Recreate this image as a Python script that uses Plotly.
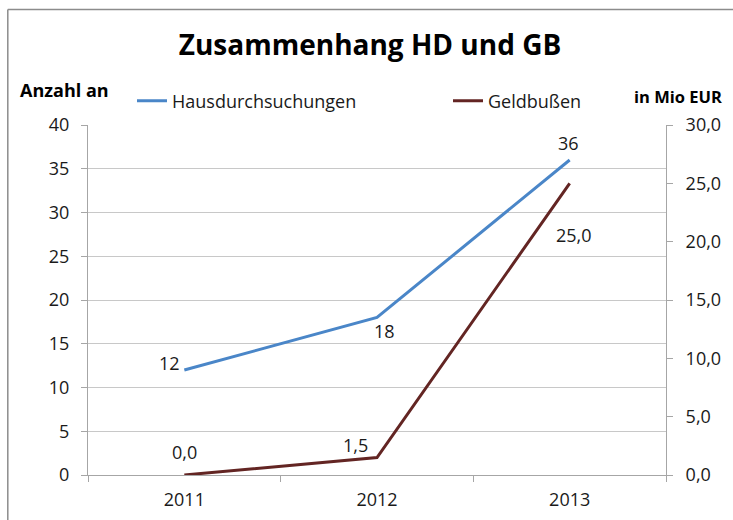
import plotly.graph_objects as go

years = ["2011", "2012", "2013"]
hausdurchsuchungen = [12, 18, 36]
geldbussen = [0.0, 1.5, 25.0]
hd_labels = ["12", "18", "36"]
gb_labels = ["0,0", "1,5", "25,0"]
left_ticks = [0, 5, 10, 15, 20, 25, 30, 35, 40]
right_ticks = [0, 5, 10, 15, 20, 25, 30]

BLUE = "#4A86C8"
RED = "#632523"
FONT = "Open Sans"
TXT = "#1a1a1a"

# body margin removed via post_script; plot-area in window px: x 88..666, y 125..475
OFF = 0
PL, PR, PT, PB = 88, 666, 125, 475
PW, PH = PR - PL, PB - PT


def px(wx):
    return (wx - PL) / PW


def py(wy):
    return (PB - wy) / PH


fig = go.Figure()
fig.add_trace(go.Scatter(x=years, y=hausdurchsuchungen, mode="lines", name="Hausdurchsuchungen",
                         line=dict(color=BLUE, width=3), legend="legend", showlegend=True))
fig.add_trace(go.Scatter(x=years, y=geldbussen, mode="lines", name="Geldbußen",
                         line=dict(color=RED, width=3), yaxis="y2", legend="legend2", showlegend=True))

hd_shift = [(-15, 7), (7, -13), (-1, 17)]
gb_shift = [(0, 23), (-22, 13), (4, -52)]
ann = []
for i, (yv, t, (dx, dy)) in enumerate(zip(hausdurchsuchungen, hd_labels, hd_shift)):
    ann.append(dict(x=i, y=yv, xref="x", yref="y", text=t, showarrow=False,
                    xanchor="center", yanchor="middle",
                    xshift=dx, yshift=dy, font=dict(family=FONT, size=18, color=TXT)))
for i, (yv, t, (dx, dy)) in enumerate(zip(geldbussen, gb_labels, gb_shift)):
    ann.append(dict(x=i, y=yv, xref="x", yref="y2", text=t, showarrow=False,
                    xanchor="center", yanchor="middle",
                    xshift=dx, yshift=dy, font=dict(family=FONT, size=18, color=TXT)))
ann.append(dict(x=px(64), y=py(90), xref="paper", yref="paper",
                xanchor="center", yanchor="middle",
                text="<b>Anzahl an</b>", showarrow=False, font=dict(family=FONT, size=18, color="#000")))
ann.append(dict(x=px(678), y=py(97), xref="paper", yref="paper",
                xanchor="center", yanchor="middle",
                text="<b>in Mio EUR</b>", showarrow=False, font=dict(family=FONT, size=16.5, color="#000")))

W, H = 733 - OFF, 520 - OFF
border = dict(color="#8c8c8c", width=1.5)
fig.update_layout(
    width=W, height=H,
    margin=dict(l=PL - OFF, r=W - (PR - OFF), t=PT - OFF, b=H - (PB - OFF), autoexpand=False),
    paper_bgcolor="white", plot_bgcolor="white",
    separators=",.",
    showlegend=True,
    font=dict(family=FONT, size=18, color=TXT),
    title=dict(text="<b>Zusammenhang HD und GB</b>", x=(370 - OFF) / W, xanchor="center",
               y=1 - (45 - OFF) / H, yanchor="middle", font=dict(family=FONT, size=28, color="#000")),
    xaxis=dict(type="category", range=[-0.5, 2.5], showgrid=False, showline=True,
               linecolor="#a6a6a6", linewidth=1, ticks="outside", tickson="boundaries",
               ticklen=6, tickcolor="#a6a6a6", tickfont=dict(size=18), ticklabelstandoff=8),
    yaxis=dict(range=[0, 40], tickvals=left_ticks, showgrid=True, gridcolor="#c8c8c8",
               showline=True, linecolor="#a6a6a6", ticks="outside", ticklen=6,
               tickcolor="#a6a6a6", zeroline=False, tickfont=dict(size=18), ticklabelstandoff=8),
    yaxis2=dict(range=[0, 30], tickvals=right_ticks, tickformat=".1f", overlaying="y",
                side="right", showgrid=False, showline=True, linecolor="#a6a6a6",
                ticks="outside", ticklen=6, tickcolor="#a6a6a6", zeroline=False,
                tickfont=dict(size=18), ticklabelstandoff=9),
    legend=dict(orientation="h", x=px(132), y=py(101), xanchor="left",
                yanchor="middle", font=dict(size=18), bgcolor="rgba(0,0,0,0)"),
    legend2=dict(orientation="h", x=px(448), y=py(101), xanchor="left",
                 yanchor="middle", font=dict(size=18), bgcolor="rgba(0,0,0,0)"),
    annotations=ann,
    shapes=[
        dict(type="line", xref="paper", yref="paper", x0=px(7.8), x1=px(7.8),
             y0=py(540), y1=py(9.5), line=border, layer="below"),
        dict(type="line", xref="paper", yref="paper", x0=px(7.8), x1=px(760),
             y0=py(9.5), y1=py(9.5), line=border, layer="below"),
    ],
)

fig.write_html(
    "out.html",
    config={"displayModeBar": False},
    post_script="document.body.style.margin='0';document.body.style.overflow='hidden';",
)
